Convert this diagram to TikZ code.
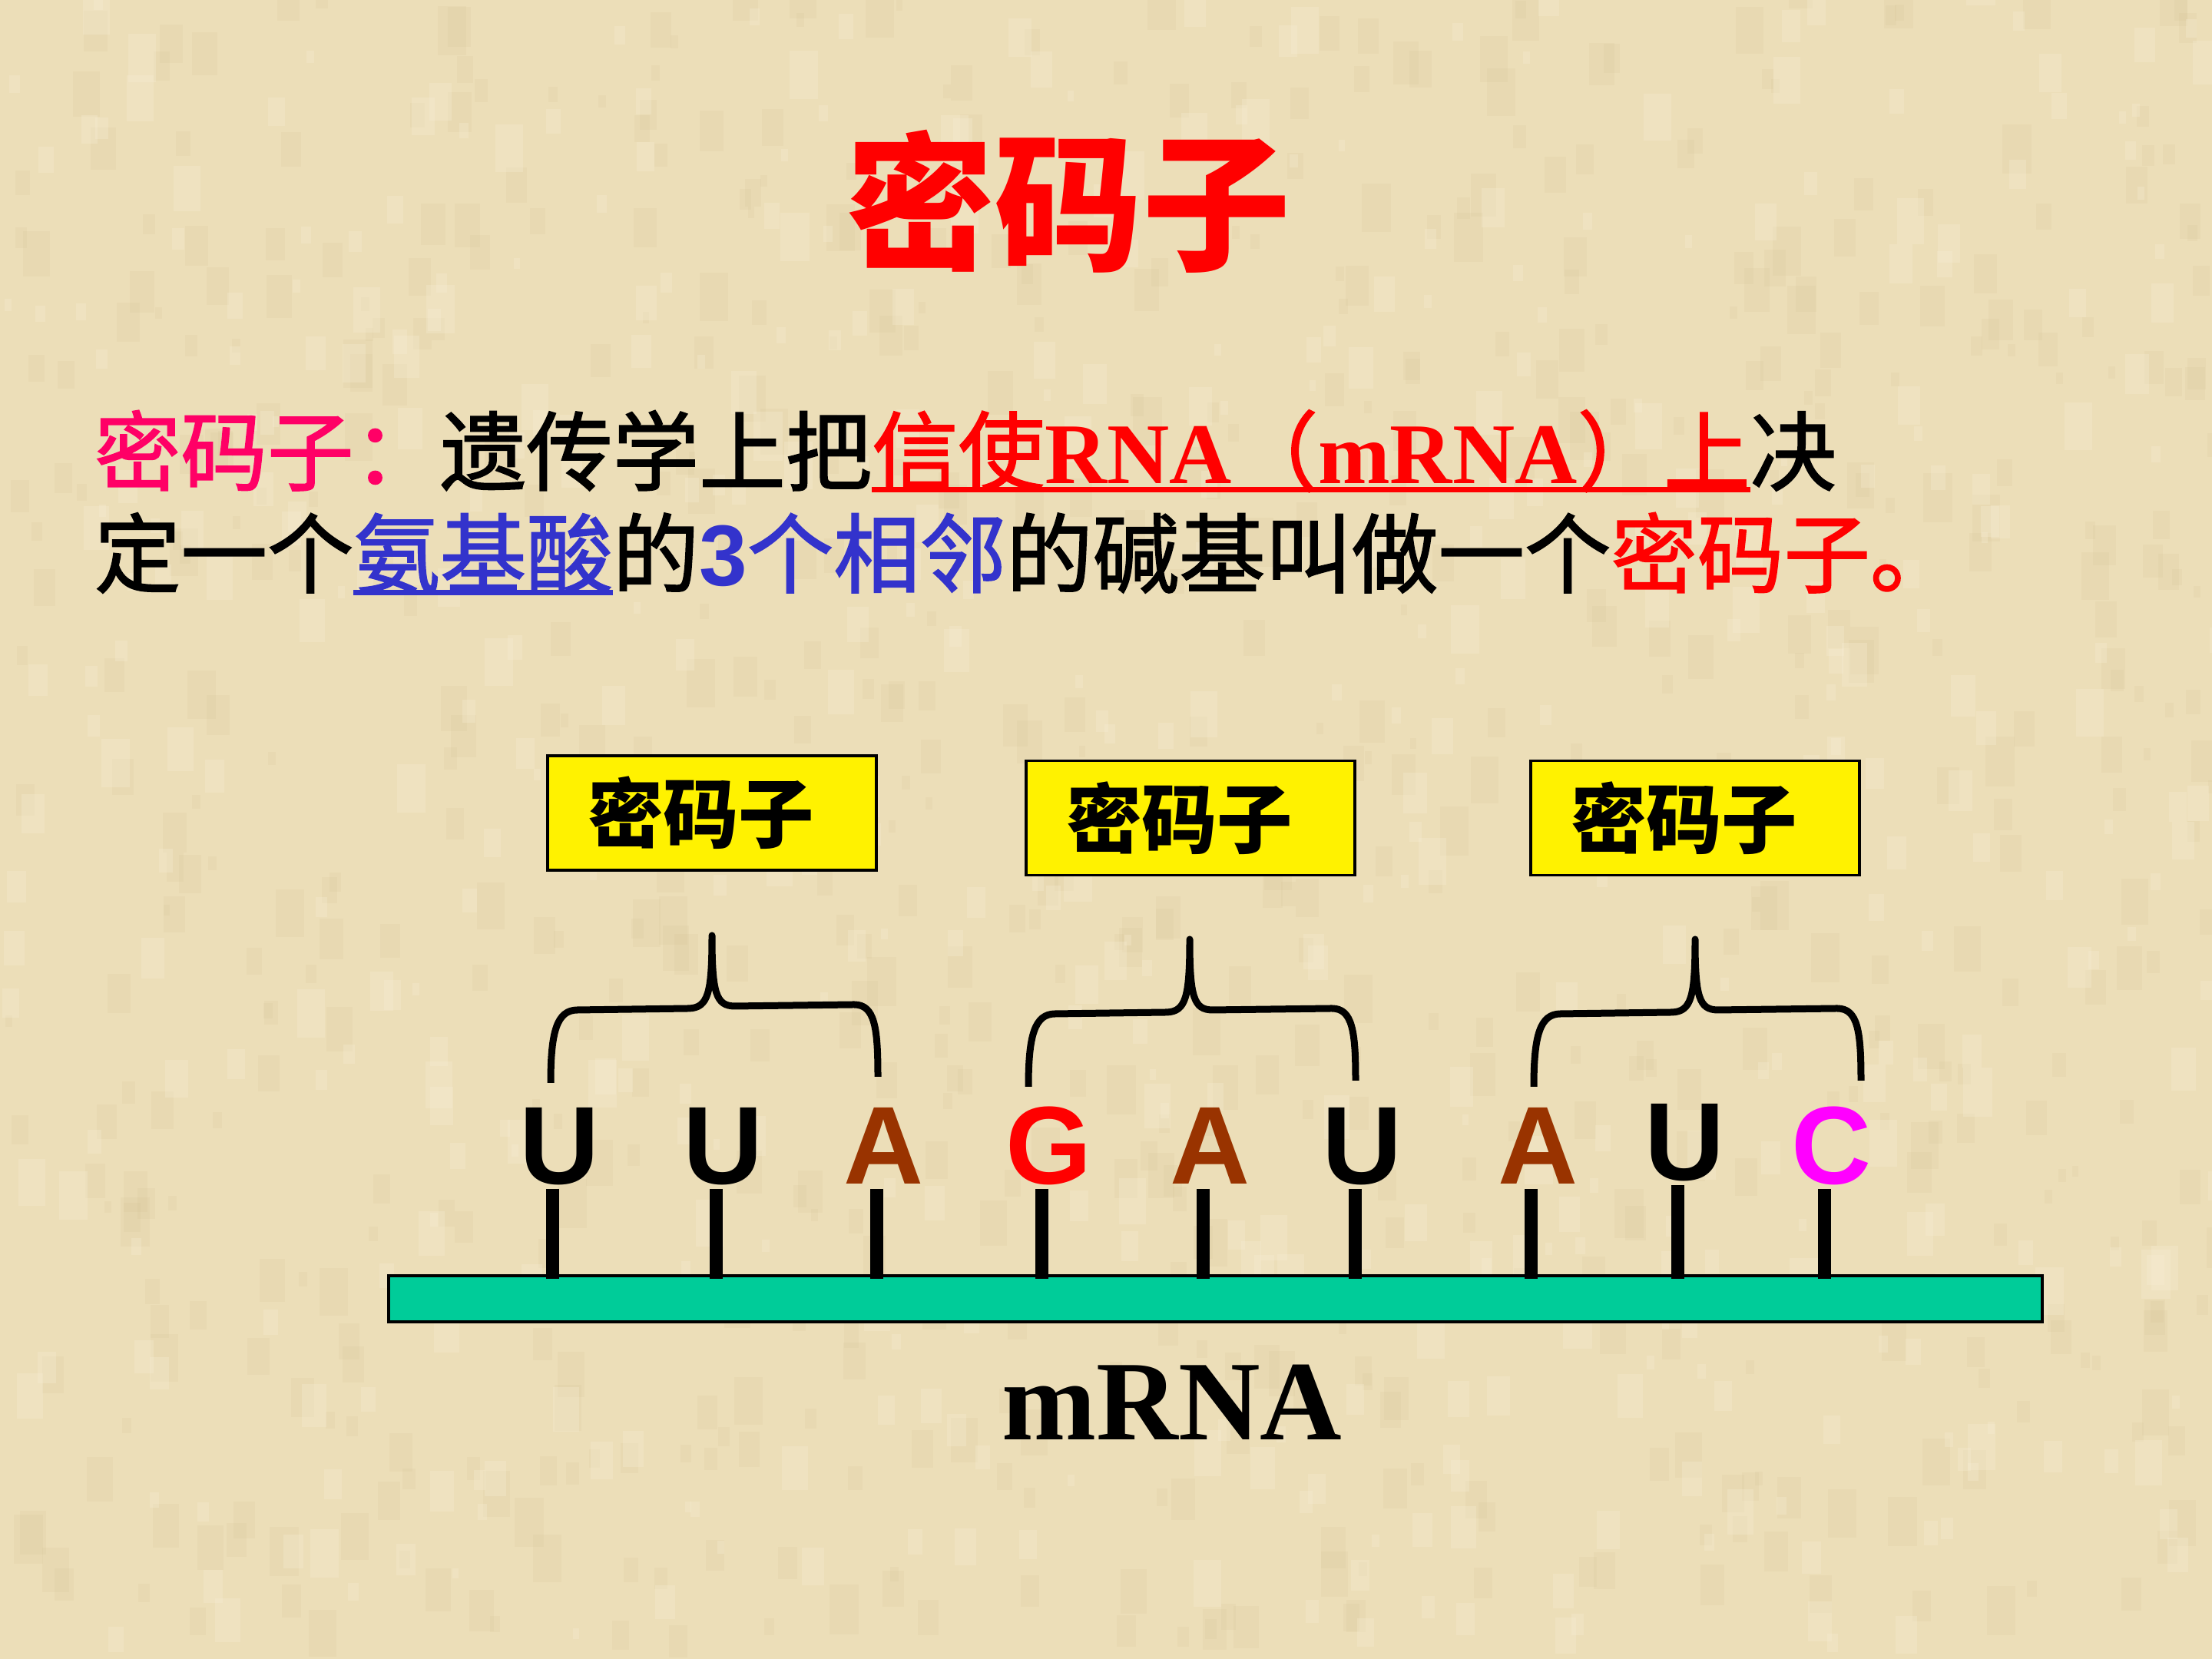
\documentclass[tikz,border=0pt]{standalone}
\usepackage{fontspec}
\setmainfont{Liberation Serif}
\newfontfamily\cjk{Noto Sans CJK SC}
\newfontfamily\cjkpara{Noto Sans CJK SC}[FakeBold=1.6]
\newfontfamily\arial{Liberation Sans}
\definecolor{paper}{RGB}{236,222,184}
\definecolor{paperdark}{RGB}{205,186,140}
\definecolor{paperlight}{RGB}{248,238,212}
\definecolor{rose}{RGB}{255,0,102}
\definecolor{aminoblue}{RGB}{51,51,204}
\definecolor{adenine}{RGB}{153,51,0}
\definecolor{cytosine}{RGB}{255,0,255}
\definecolor{strand}{RGB}{0,204,153}

\begin{document}
\begin{tikzpicture}[
  para/.style={inner sep=0pt, outer sep=0pt, anchor=base west, font=\cjkpara\fontsize{32}{38}\selectfont},
  codonbox/.style={draw, line width=1.1pt, fill=yellow, minimum height=1.49cm, text width=3.24cm,
    inner xsep=0.52cm, inner ysep=0pt, align=left, font=\cjk\bfseries\fontsize{28}{32}\selectfont},
  nucleo/.style={inner sep=0pt, anchor=base, font=\arial\bfseries\fontsize{41}{46}\selectfont},
  stick/.style={line width=0.17cm},
  pics/codonbrace/.style={code={
    \draw[line width=0.09cm, line join=round] (-2.10,-1.92) .. controls (-2.10,-1.25) and (-2.02,-0.97) .. (-1.75,-0.97)
      -- (-0.30,-0.95) .. controls (-0.05,-0.94) and (0,-0.75) .. (0,0)
      .. controls (0,-0.75) and (0.05,-0.92) .. (0.30,-0.92)
      -- (1.85,-0.90) .. controls (2.12,-0.90) and (2.16,-1.20) .. (2.16,-1.84);
  }}
]
\useasboundingbox (0,0) rectangle (28.8,21.6);
%fond papier
\fill[paper] (0,0) rectangle (28.8,21.6);
\pgfmathsetseed{42}
\foreach \i in {1,...,700}{
  \pgfmathsetmacro{\px}{rnd*28.8}
  \pgfmathsetmacro{\py}{rnd*21.6}
  \pgfmathsetmacro{\pw}{0.08+rnd*0.3}
  \fill[paperdark, opacity=0.12] (\px,\py) rectangle ++(\pw,1.7*\pw);
}
\foreach \i in {1,...,500}{
  \pgfmathsetmacro{\px}{rnd*28.8}
  \pgfmathsetmacro{\py}{rnd*21.6}
  \pgfmathsetmacro{\pw}{0.08+rnd*0.3}
  \fill[paperlight, opacity=0.3] (\px,\py) rectangle ++(\pw,1.7*\pw);
}

%titre
\node[font=\cjk\bfseries\fontsize{55}{60}\selectfont, text=red, inner sep=0pt] (title) at (13.91,18.98) {密码子};

%definition, ligne 1
\node[para] (l1a) at (1.23,15.30) {\textcolor{rose}{密码子：}遗传学上把};
\node[para, text=red] (l1b) at (l1a.base east) {信使{\rmfamily\bfseries RNA}（{\rmfamily\bfseries mRNA}）上};
\node[para] (l1c) at (l1b.base east) {决};
\draw[red, line width=0.07cm] ([yshift=-0.8mm]l1b.base west) -- ([yshift=-0.8mm]l1b.base east);

%definition, ligne 2
\node[para] (l2a) at (1.23,13.97) {定一个};
\node[para, text=aminoblue] (l2b) at (l2a.base east) {氨基酸};
\node[para] (l2c) at (l2b.base east) {的};
\node[para, text=aminoblue] (l2d) at (l2c.base east) {{\arial\bfseries 3}个相邻};
\node[para] (l2e) at (l2d.base east) {的碱基叫做一个};
\node[para, text=red] (l2f) at (l2e.base east) {密码子。};
\draw[aminoblue, line width=0.07cm] ([yshift=-0.9mm]l2b.base west) -- ([yshift=-0.9mm]l2b.base east);

%cadres jaunes
\node[codonbox] (box1) at (9.27,11.015) {密码子};
\node[codonbox] (box2) at (15.50,10.95) {密码子};
\node[codonbox] (box3) at (22.07,10.95) {密码子};

%accolades
\pic at (9.27,9.42) {codonbrace};
\pic at (15.49,9.37) {codonbrace};
\pic at (22.07,9.37) {codonbrace};

%brin d'ARNm
\node[draw, line width=1.1pt, fill=strand, minimum width=21.53cm, minimum height=0.60cm, inner sep=0pt] (bar) at (15.825,4.69) {};

%bases
\foreach \n/\x/\y/\c/\t in {1/7.29/6.18/black/U, 2/9.42/6.18/black/U, 3/11.51/6.18/adenine/A,
  4/13.66/6.18/red/G, 5/15.76/6.18/adenine/A, 6/17.74/6.18/black/U,
  7/20.03/6.18/adenine/A, 8/21.94/6.23/black/U, 9/23.85/6.18/cytosine/C}
  \node[nucleo, text=\c] (b\n) at (\x,\y) {\t};

\foreach \n in {1,...,9}
  \draw[stick] ([xshift=-1mm,yshift=-0.6mm]b\n.base) -- ([xshift=-1mm,yshift=-0.6mm]b\n.base |- bar.north);

\node[font=\bfseries\fontsize{42}{46}\selectfont, inner sep=0pt] (lbl) at (15.26,3.34) {mRNA};
\end{tikzpicture}
\end{document}
